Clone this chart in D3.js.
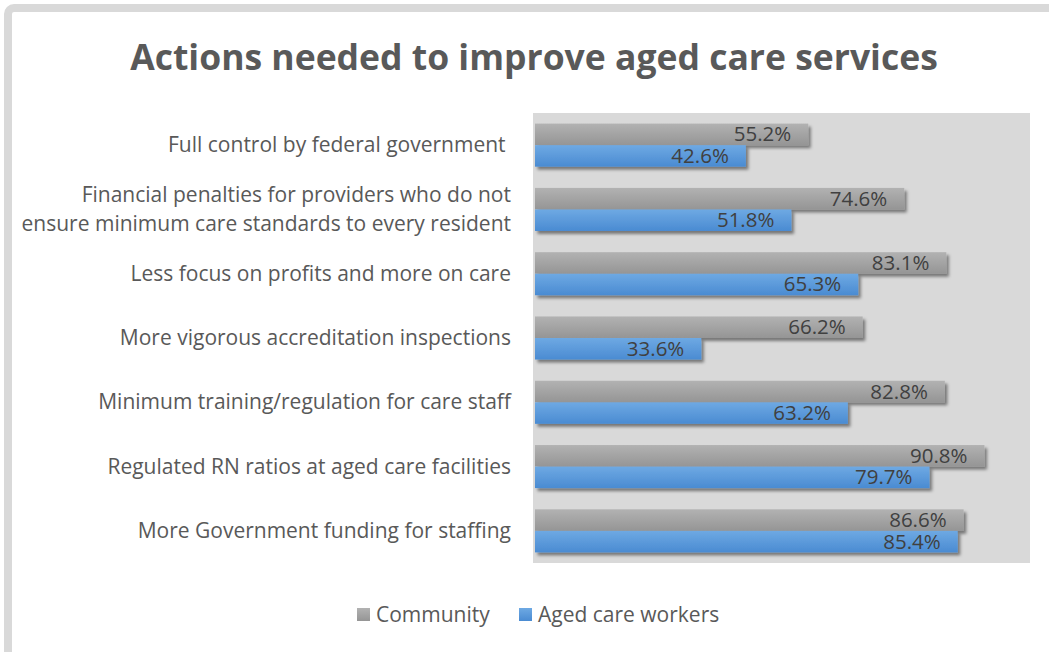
<!DOCTYPE html>
<html>
<head>
<meta charset="utf-8">
<script src="https://cdn.jsdelivr.net/npm/d3@7"></script>
<style>
  html, body { margin: 0; padding: 0; background: #fff; }
  svg { display: block; }
</style>
</head>
<body>
<svg id="chart" width="1049" height="652"></svg>
<script>
// Survey responses: share who support each action
const categories = [
  "Full control by federal government ",
  "Financial penalties for providers who do not\nensure minimum care standards to every resident",
  "Less focus on profits and more on care",
  "More vigorous accreditation inspections",
  "Minimum training/regulation for care staff",
  "Regulated RN ratios at aged care facilities",
  "More Government funding for staffing"
];
const seriesNames = ["Community", "Aged care workers"];
const community = [55.2, 74.6, 83.1, 66.2, 82.8, 90.8, 86.6];
const agedCareWorkers = [42.6, 51.8, 65.3, 33.6, 63.2, 79.7, 85.4];
const titleText = "Actions needed to improve aged care services";

const font = "'Open Sans', 'DejaVu Sans', sans-serif";
const svg = d3.select("#chart");
const W = 1049, H = 652;

const defs = svg.append("defs");
const grayGrad = defs.append("linearGradient").attr("id", "gGray").attr("x1", 0).attr("y1", 0).attr("x2", 0).attr("y2", 1);
grayGrad.append("stop").attr("offset", "0%").attr("stop-color", "#b2b2b2");
grayGrad.append("stop").attr("offset", "100%").attr("stop-color", "#959595");
const blueGrad = defs.append("linearGradient").attr("id", "gBlue").attr("x1", 0).attr("y1", 0).attr("x2", 0).attr("y2", 1);
blueGrad.append("stop").attr("offset", "0%").attr("stop-color", "#6ea9e3");
blueGrad.append("stop").attr("offset", "100%").attr("stop-color", "#4a8bd2");
const shadow = defs.append("filter").attr("id", "shadow")
  .attr("x", "-5%").attr("y", "-30%").attr("width", "115%").attr("height", "180%");
shadow.append("feDropShadow").attr("dx", 2.5).attr("dy", 3).attr("stdDeviation", 1.8)
  .attr("flood-color", "#000").attr("flood-opacity", 0.45);

// Chart frame
svg.append("rect").attr("x", 8).attr("y", 8).attr("width", W + 10).attr("height", H + 10)
  .attr("rx", 6).attr("fill", "#fff").attr("stroke", "#d9d9d9").attr("stroke-width", 8);

// Title
svg.append("text").attr("x", 534).attr("y", 70).attr("text-anchor", "middle")
  .attr("font-family", font).attr("font-weight", "bold").attr("font-size", 35.5)
  .attr("fill", "#595959").text(titleText);

const plot = { left: 533, right: 1030, top: 113, bottom: 563 };
const x = d3.scaleLinear().domain([0, 100]).range([plot.left + 2, plot.right]);
const y = d3.scaleBand().domain(d3.range(categories.length)).range([plot.top, plot.bottom]).paddingInner(0.33).paddingOuter(0.165);
const sub = d3.scaleBand().domain([0, 1]).range([0, y.bandwidth()]);

svg.append("rect").attr("x", plot.left).attr("y", plot.top)
  .attr("width", plot.right - plot.left).attr("height", plot.bottom - plot.top).attr("fill", "#d9d9d9");

const series = [
  { name: seriesNames[0], values: community, fill: "url(#gGray)" },
  { name: seriesNames[1], values: agedCareWorkers, fill: "url(#gBlue)" }
];

series.forEach((s, si) => {
  const g = svg.append("g");
  g.selectAll("rect").data(s.values).join("rect")
    .attr("x", x(0))
    .attr("y", (d, i) => y(i) + sub(si))
    .attr("width", d => x(d) - x(0))
    .attr("height", sub.bandwidth())
    .attr("fill", s.fill)
    .attr("filter", "url(#shadow)");
  g.selectAll("text").data(s.values).join("text")
    .attr("x", d => x(d) - 17)
    .attr("y", (d, i) => y(i) + sub(si) + sub.bandwidth() / 2 + 7)
    .attr("text-anchor", "end")
    .attr("font-family", font).attr("font-size", 20.5).attr("fill", "#404040")
    .text(d => d.toFixed(1) + "%");
});

// Category labels
const labels = svg.append("g");
categories.forEach((c, i) => {
  const lines = c.split("\n");
  const cy = y(i) + y.bandwidth() / 2;
  const lh = 29;
  const t = labels.append("text").attr("text-anchor", "end")
    .attr("font-family", font).attr("font-size", 21).attr("fill", "#595959")
    .attr("xml:space", "preserve");
  lines.forEach((ln, k) => {
    t.append("tspan").attr("x", 511)
      .attr("y", cy + 7 + (k - (lines.length - 1) / 2) * lh)
      .text(ln);
  });
});

// Legend
const legend = svg.append("g");
const legendItems = [
  { name: seriesNames[0], fill: "url(#gGray)", x: 357 },
  { name: seriesNames[1], fill: "url(#gBlue)", x: 519 }
];
legendItems.forEach(it => {
  legend.append("rect").attr("x", it.x).attr("y", 608).attr("width", 13).attr("height", 13).attr("fill", it.fill);
  legend.append("text").attr("x", it.x + 19).attr("y", 622)
    .attr("font-family", font).attr("font-size", 21).attr("fill", "#595959").text(it.name);
});
</script>
</body>
</html>
